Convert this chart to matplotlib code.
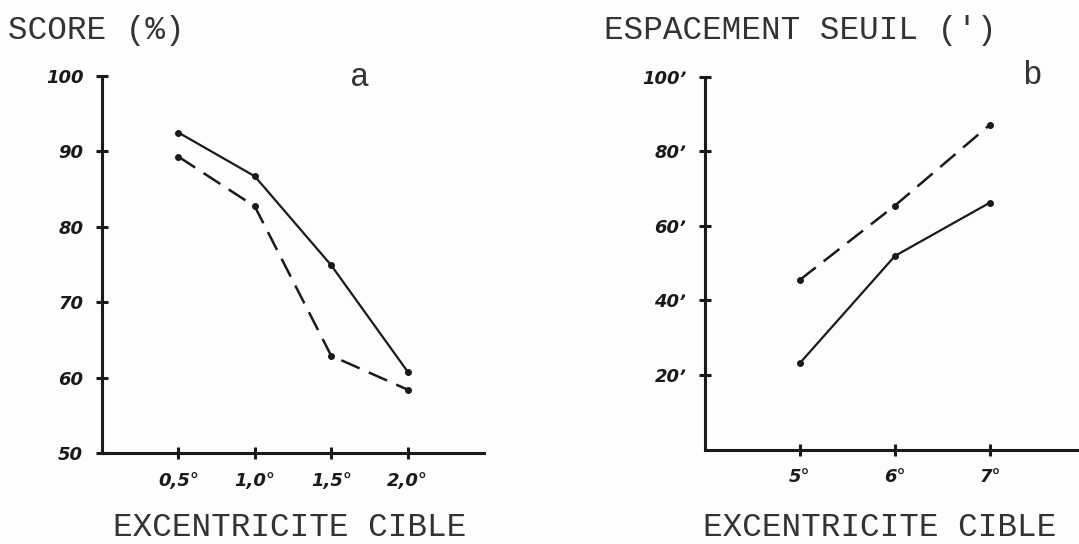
import matplotlib.pyplot as plt

# panel a: score vs target eccentricity
ecc_a = [0.5, 1.0, 1.5, 2.0]
ecc_a_labels = ["0,5°", "1,0°", "1,5°", "2,0°"]
score_solid = [92.5, 86.7, 74.9, 60.8]
score_dashed = [89.3, 82.7, 62.9, 58.4]
score_ticks = [50, 60, 70, 80, 90, 100]

# panel b: threshold spacing vs target eccentricity
ecc_b = [5, 6, 7]
ecc_b_labels = ["5°", "6°", "7°"]
spacing_solid = [23.2, 51.9, 66.2]
spacing_dashed = [45.5, 65.4, 87.1]
spacing_ticks = [20, 40, 60, 80, 100]
spacing_labels = ["20ʼ", "40ʼ", "60ʼ", "80ʼ", "100ʼ"]

W, H = 1079, 544
ink = "#1a1a1a"
mono = "Liberation Mono"
hand = dict(family="DejaVu Sans", weight="bold", style="italic", size=13)

fig = plt.figure(figsize=(W / 100, H / 100), dpi=100)
fig.patch.set_facecolor("#fdfdfd")


def px(x, y):
    return x / W, 1 - y / H


def style_axes(ax):
    for s in ["top", "right"]:
        ax.spines[s].set_visible(False)
    for s in ["left", "bottom"]:
        ax.spines[s].set_linewidth(2.2)
        ax.spines[s].set_color(ink)
    ax.set_facecolor("none")
    ax.tick_params(direction="inout", length=9, width=2.2, colors=ink, pad=9)
    for lab in ax.get_xticklabels() + ax.get_yticklabels():
        lab.set(**hand)


# panel a
ax1 = fig.add_axes([102 / W, 1 - 453 / H, (484 - 102) / W, (453 - 76) / H])
ax1.plot(ecc_a, score_solid, color=ink, lw=1.6, marker="o", ms=4)
ax1.plot(ecc_a, score_dashed, color=ink, lw=1.8, marker="o", ms=4, dashes=(8, 4))
ax1.set_xlim(0, 2.5)
ax1.set_ylim(50, 100)
ax1.set_xticks(ecc_a)
ax1.set_xticklabels(ecc_a_labels)
ax1.set_yticks(score_ticks)
ax1.set_yticklabels([str(t) for t in score_ticks])
style_axes(ax1)

# panel b
ax2 = fig.add_axes([705 / W, 1 - 449.5 / H, (W - 705) / W, (449.5 - 76.5) / H])
ax2.plot(ecc_b, spacing_solid, color=ink, lw=1.6, marker="o", ms=4)
ax2.plot(ecc_b, spacing_dashed, color=ink, lw=1.8, marker="o", ms=4, dashes=(8, 4))
ax2.set_xlim(4, 4 + (W - 705) / 95.0)
ax2.set_ylim(0, 100)
ax2.set_xticks(ecc_b)
ax2.set_xticklabels(ecc_b_labels)
ax2.set_yticks(spacing_ticks)
ax2.set_yticklabels(spacing_labels)
style_axes(ax2)

# typewritten labels
tw = dict(family=mono, size=23.5, color="#333333")
fig.text(*px(8, 30), "SCORE (%)", ha="left", va="center", **tw)
fig.text(*px(604, 30), "ESPACEMENT SEUIL (')", ha="left", va="center", **tw)
fig.text(*px(290, 527), "EXCENTRICITE CIBLE", ha="center", va="center", **tw)
fig.text(*px(880, 527), "EXCENTRICITE CIBLE", ha="center", va="center", **tw)
fig.text(*px(360, 78), "a", ha="center", va="center", **tw)
fig.text(*px(1032, 76), "b", ha="center", va="center", **tw)

fig.savefig("out.png", dpi=100, facecolor=fig.get_facecolor())
